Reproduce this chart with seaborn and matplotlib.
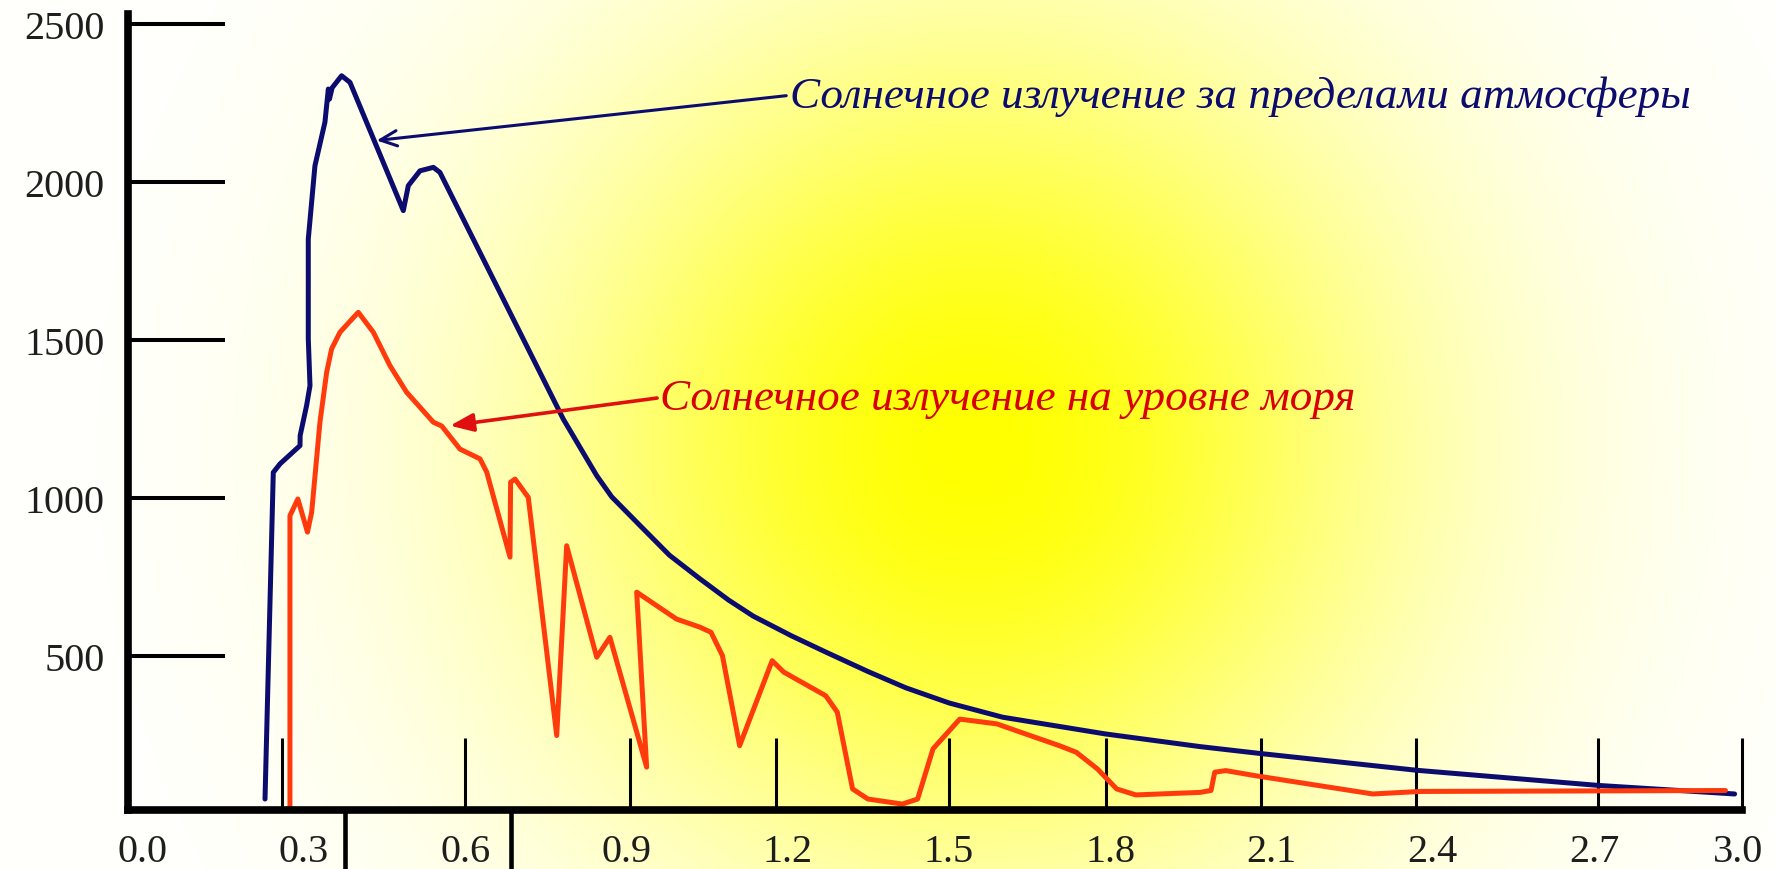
import numpy as np
import pandas as pd
import matplotlib
matplotlib.use("Agg")
import matplotlib.pyplot as plt
import matplotlib.transforms as mtransforms
import seaborn as sns

# ---- spectral irradiance vs wavelength (µm) ----
# outside the atmosphere
wl_space = [0.2276, 0.2430, 0.2554, 0.2927, 0.2930, 0.3050, 0.3113, 0.3081, 0.3081,
            0.3205, 0.3391, 0.3454, 0.3475, 0.3525, 0.3701, 0.3857, 0.4849, 0.4942,
            0.5159, 0.5408, 0.5530, 0.7825, 0.8447, 0.8725, 0.9252, 0.9800, 1.0369,
            1.0900, 1.1360, 1.2067, 1.2700, 1.3490, 1.4200, 1.5005, 1.6000, 1.7914,
            1.9670, 2.0799, 2.3703, 2.7087, 2.9617]
irr_space = [46, 1080, 1107, 1165, 1197, 1292, 1355, 1503, 1819,
             2051, 2189, 2294, 2262, 2298, 2336, 2315, 1909, 1988,
             2035, 2046, 2030, 1249, 1070, 1003, 912, 818, 743,
             676, 625, 563, 512, 450, 398, 350, 305, 252,
             212, 190, 137, 89, 62]

# at sea level
wl_sea = [0.2740, 0.2740, 0.2887, 0.3066, 0.3144, 0.3298, 0.3423, 0.3515, 0.3671,
          0.4011, 0.4291, 0.4601, 0.4910, 0.5408, 0.5564, 0.5903, 0.6276, 0.6401,
          0.6834, 0.6845, 0.6927, 0.7174, 0.7703, 0.7888, 0.8447, 0.8693, 0.9376,
          0.9191, 0.9930, 1.0369, 1.0573, 1.0786, 1.1106, 1.1711, 1.1926, 1.2708,
          1.2923, 1.3207, 1.3492, 1.4133, 1.4417, 1.4704, 1.5201, 1.5890, 1.6342,
          1.7052, 1.7370, 1.7764, 1.8120, 1.8476, 1.9671, 1.9876, 1.9945, 2.0150,
          2.0696, 2.2885, 2.3772, 2.9446]
irr_sea = [20, 943, 996, 891, 954, 1239, 1397, 1471, 1524,
           1587, 1524, 1418, 1334, 1239, 1227, 1154, 1123, 1081,
           812, 1049, 1059, 1001, 247, 848, 495, 558, 147,
           701, 616, 590, 574, 500, 215, 484, 448, 373,
           321, 78, 46, 30, 46, 205, 299, 284, 257,
           215, 194, 141, 78, 59, 67, 73, 131, 136,
           120, 62, 70, 73]

y_ticks = [500, 1000, 1500, 2000, 2500]
x_ticks = [0.0, 0.3, 0.6, 0.9, 1.2, 1.5, 1.8, 2.1, 2.4, 2.7, 3.0]
x_tick_labels = ["0.0", "0.3", "0.6", "0.9", "1.2", "1.5", "1.8", "2.1", "2.4", "2.7", "3.0"]
scale_marks_up = [0.2598, 0.5996, 0.9066, 1.1781, 1.5005, 1.7914, 2.0801, 2.3688, 2.7081, 2.9758]
scale_marks_down = [0.3764, 0.6849]

label_space = "Солнечное излучение за пределами атмосферы"
label_sea = "Солнечное излучение на уровне моря"

NAVY = "#0c0c6e"
RED_LINE = "#ff3a0c"
RED_TEXT = "#d80000"

sns.set_theme(style="white")
plt.rcParams["font.family"] = ["Liberation Serif", "DejaVu Serif"]

fig = plt.figure(figsize=(17.76, 8.7), dpi=100)

# soft yellow glow behind the chart
bg = fig.add_axes([0, 0, 1, 1], zorder=0)
W, H = 1776, 870
xx, yy = np.meshgrid(np.arange(W), np.arange(H))
dist = np.hypot(xx - 974, yy - 447) / 430.0
blue = np.clip(1 - np.exp(-dist ** 2), 0, 0.985)
glow = np.dstack([np.ones_like(blue), np.ones_like(blue), blue])
bg.imshow(glow, aspect="auto", extent=(0, 1, 0, 1), origin="upper", interpolation="bilinear")
bg.set_axis_off()

ax = fig.add_axes([0.07207, 0.06736, 0.91622, 0.92574], zorder=1)
ax.patch.set_alpha(0)

df_space = pd.DataFrame({"wl": wl_space, "irr": irr_space})
df_sea = pd.DataFrame({"wl": wl_sea, "irr": irr_sea})
sns.lineplot(data=df_space, x="wl", y="irr", sort=False, estimator=None,
             color=NAVY, lw=3.6, ax=ax, solid_joinstyle="round", solid_capstyle="round")
sns.lineplot(data=df_sea, x="wl", y="irr", sort=False, estimator=None,
             color=RED_LINE, lw=3.6, ax=ax, solid_joinstyle="round", solid_capstyle="round")

ax.set_xlim(-0.0273, 3.0)
ax.set_ylim(10, 2560)
ax.set_xlabel("")
ax.set_ylabel("")

for side in ("top", "right"):
    ax.spines[side].set_visible(False)
ax.spines["left"].set_linewidth(5.5)
ax.spines["left"].set_color("black")
ax.spines["left"].set_bounds(10, 2531)
ax.spines["bottom"].set_linewidth(5.5)
ax.spines["bottom"].set_color("black")
ax.spines["bottom"].set_bounds(-0.0273, 2.9758)

# y axis: long inward ticks
ax.set_yticks(y_ticks)
ax.set_yticklabels([str(t) for t in y_ticks])
ax.tick_params(axis="y", which="major", left=True, direction="in", length=70,
               width=2.9, color="black", pad=17, labelsize=29, labelcolor="#1e1e1e")

# x axis: labels without marks, separate scale marks
ax.set_xticks(x_ticks)
ax.set_xticklabels(x_tick_labels)
ax.tick_params(axis="x", which="major", bottom=True, length=0, pad=16,
               labelsize=29, labelcolor="#1e1e1e")
ax.set_xticks(scale_marks_up, minor=True)
ax.tick_params(axis="x", which="minor", bottom=True, direction="in", length=52,
               width=2.2, color="black")
# keep the last label inside the canvas
last = ax.get_xticklabels()[-1]
last.set_transform(last.get_transform() +
                   mtransforms.ScaledTranslation(-12 / 72, 0, fig.dpi_scale_trans))

sec = ax.secondary_xaxis("bottom")
sec.set_xticks(scale_marks_down)
sec.tick_params(axis="x", which="major", bottom=True, direction="out", length=44,
                width=3.3, color="black", labelbottom=False)
sec.spines["bottom"].set_visible(False)

# callouts
ax.annotate(label_space, xy=(0.4352, 2131), xytext=(1.2034, 2274),
            ha="left", va="center", fontsize=32.5, fontstyle="italic", color=NAVY,
            arrowprops=dict(arrowstyle="->,head_length=1.2,head_width=0.55",
                            mutation_scale=10, color=NAVY, lw=2.2,
                            relpos=(0, 0.5), shrinkA=0, shrinkB=0))
ax.annotate(label_sea, xy=(0.5718, 1228), xytext=(0.9631, 1317),
            ha="left", va="center", fontsize=32.5, fontstyle="italic", color=RED_TEXT,
            arrowprops=dict(arrowstyle="-|>,head_length=1.4,head_width=0.55",
                            mutation_scale=10, color="#e01010", lw=2.6,
                            relpos=(0, 0.5), shrinkA=0, shrinkB=0))

fig.savefig("out.png", dpi=100)
